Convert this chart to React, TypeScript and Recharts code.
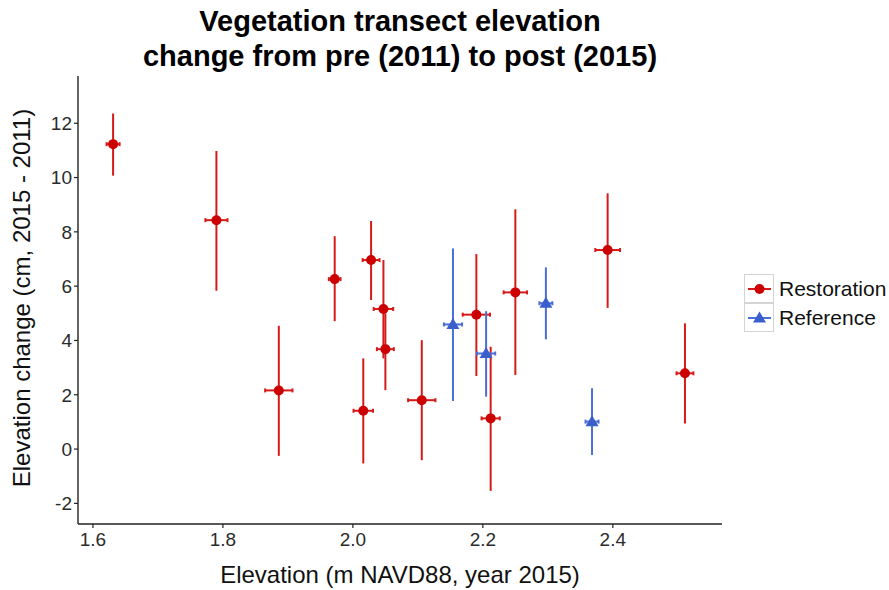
import React from "react";
import { ScatterChart, Scatter, XAxis, YAxis, ErrorBar } from "recharts";

// Restoration transects
const restElev = [1.631, 1.79, 1.886, 1.972, 2.016, 2.028, 2.047, 2.05, 2.106, 2.19, 2.212, 2.25, 2.392, 2.511];
const restChange = [11.23, 8.43, 2.16, 6.26, 1.41, 6.96, 5.16, 3.68, 1.8, 4.95, 1.13, 5.77, 7.33, 2.79];
const restLow = [10.07, 5.83, -0.25, 4.71, -0.53, 5.49, 3.34, 2.17, -0.41, 2.69, -1.54, 2.73, 5.2, 0.94];
const restHigh = [12.36, 10.98, 4.54, 7.84, 3.34, 8.4, 6.96, 5.0, 4.01, 7.18, 3.77, 8.83, 9.42, 4.63];
const restElevErr = [0.01, 0.017, 0.021, 0.009, 0.015, 0.013, 0.015, 0.013, 0.021, 0.021, 0.014, 0.018, 0.019, 0.013];

// Reference transects
const refElev = [2.154, 2.205, 2.297, 2.368];
const refChange = [4.59, 3.52, 5.37, 1.01];
const refLow = [1.77, 1.93, 4.04, -0.22];
const refHigh = [7.39, 5.08, 6.69, 2.24];
const refElevErr = [0.014, 0.014, 0.01, 0.01];

const xTicks = [1.6, 1.8, 2.0, 2.2, 2.4];
const yTicks = [-2, 0, 2, 4, 6, 8, 10, 12];

const RED = "#CC0000";
const RED_BAR = "#D61A1A";
const BLUE = "#3A5FCD";
const BLUE_BAR = "#4A6FD8";

const build = (xs: number[], ys: number[], lo: number[], hi: number[], xe: number[]) =>
  xs.map((x, i) => ({
    x,
    y: ys[i],
    yErr: [ys[i] - lo[i], hi[i] - ys[i]],
    xErr: xe[i],
  }));

const restData = build(restElev, restChange, restLow, restHigh, restElevErr);
const refData = build(refElev, refChange, refLow, refHigh, refElevErr);

const Dot = (p: any) => <circle cx={p.cx} cy={p.cy} r={5} fill={RED} />;
const Tri = (p: any) => (
  <polygon
    points={`${p.cx},${p.cy - 6.5} ${p.cx - 6.5},${p.cy + 4.5} ${p.cx + 6.5},${p.cy + 4.5}`}
    fill={BLUE}
  />
);

const font = "'Liberation Sans', Arial, Helvetica, sans-serif";
const tickStyle = { fontSize: 19, fill: "#2b2b2b", fontFamily: font };

function LegendRow({ kind, label }: { kind: "circle" | "tri"; label: string }) {
  const color = kind === "circle" ? RED : BLUE;
  return (
    <div style={{ display: "flex", alignItems: "center", height: 29 }}>
      <svg width={30} height={29} style={{ border: "1px solid #d4d4d4", boxSizing: "border-box" }}>
        <line x1={3} x2={26} y1={14} y2={14} stroke={kind === "circle" ? RED_BAR : BLUE_BAR} strokeWidth={2} />
        {kind === "circle" ? (
          <circle cx={14.5} cy={14} r={5} fill={color} />
        ) : (
          <polygon points="14.5,7.5 8,18.5 21,18.5" fill={color} />
        )}
      </svg>
      <span style={{ marginLeft: 5, fontSize: 21, fontFamily: font, color: "#111" }}>{label}</span>
    </div>
  );
}

export default function App() {
  return (
    <div style={{ position: "absolute", left: 0, top: 0, width: 889, height: 590, background: "#fff" }}>
      <div
        style={{
          position: "absolute",
          left: 0,
          width: 800,
          top: 4,
          textAlign: "center",
          fontFamily: font,
          fontWeight: "bold",
          fontSize: 29,
          lineHeight: "35px",
          color: "#000",
        }}
      >
        Vegetation transect elevation
        <br />
        change from pre (2011) to post (2015)
      </div>
      <ScatterChart width={889} height={590} margin={{ top: 76, right: 167, bottom: 26, left: 18 }}>
        <XAxis
          type="number"
          dataKey="x"
          domain={[1.577, 2.568]}
          ticks={xTicks}
          tickFormatter={(v) => v.toFixed(1)}
          allowDataOverflow
          height={40}
          tick={tickStyle}
          tickSize={4}
          tickMargin={5}
          axisLine={{ stroke: "#222", strokeWidth: 1.4 }}
          tickLine={{ stroke: "#222", strokeWidth: 1.2 }}
        />
        <YAxis
          type="number"
          dataKey="y"
          domain={[-2.76, 13.74]}
          ticks={yTicks}
          allowDataOverflow
          width={60}
          tick={tickStyle}
          tickSize={4}
          axisLine={{ stroke: "#222", strokeWidth: 1.4 }}
          tickLine={{ stroke: "#222", strokeWidth: 1.2 }}
        />
        <Scatter name="Restoration" data={restData} shape={Dot} isAnimationActive={false}>
          <ErrorBar dataKey="yErr" direction="y" width={0} stroke={RED_BAR} strokeWidth={2} isAnimationActive={false} />
          <ErrorBar dataKey="xErr" direction="x" width={2} stroke={RED_BAR} strokeWidth={2} isAnimationActive={false} />
        </Scatter>
        <Scatter name="Reference" data={refData} shape={Tri} isAnimationActive={false}>
          <ErrorBar dataKey="yErr" direction="y" width={0} stroke={BLUE_BAR} strokeWidth={2} isAnimationActive={false} />
          <ErrorBar dataKey="xErr" direction="x" width={2} stroke={BLUE_BAR} strokeWidth={2} isAnimationActive={false} />
        </Scatter>
      </ScatterChart>
      <div
        style={{
          position: "absolute",
          left: 0,
          width: 800,
          top: 561,
          textAlign: "center",
          fontFamily: font,
          fontSize: 24,
          lineHeight: "28px",
          color: "#111",
        }}
      >
        Elevation (m NAVD88, year 2015)
      </div>
      <div
        style={{
          position: "absolute",
          left: 22 - 250,
          top: 298 - 14,
          width: 500,
          textAlign: "center",
          transform: "rotate(-90deg)",
          fontFamily: font,
          fontSize: 24,
          lineHeight: "28px",
          color: "#111",
        }}
      >
        Elevation change (cm, 2015 - 2011)
      </div>
      <div style={{ position: "absolute", left: 744, top: 274 }}>
        <LegendRow kind="circle" label="Restoration" />
        <LegendRow kind="tri" label="Reference" />
      </div>
    </div>
  );
}
